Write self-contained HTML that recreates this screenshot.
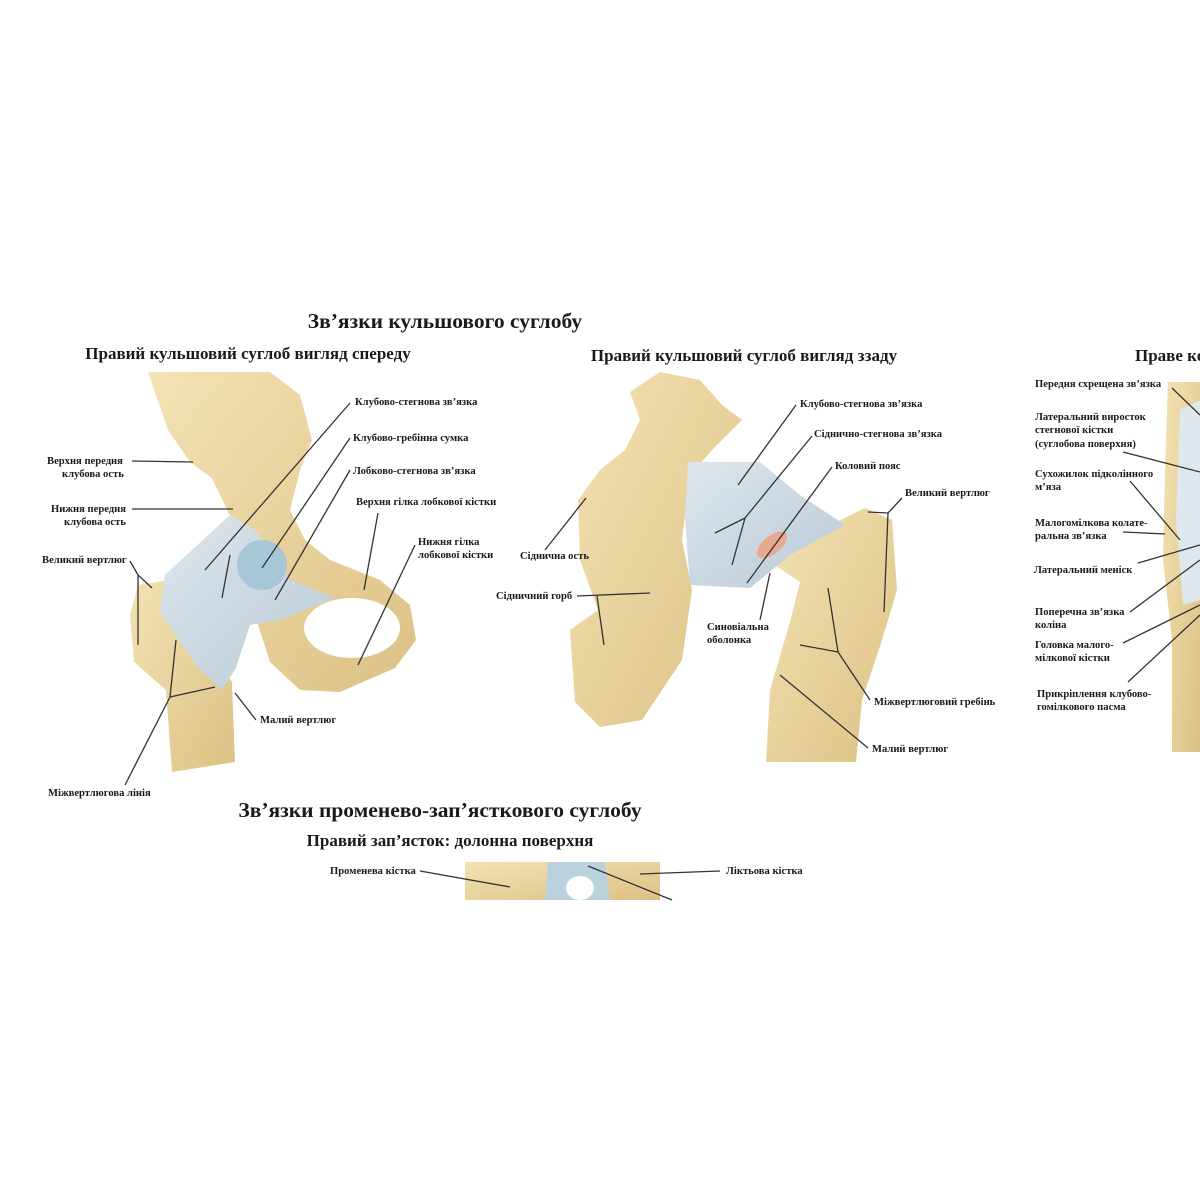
<!DOCTYPE html>
<html><head><meta charset="utf-8"><style>
html,body{margin:0;padding:0;background:#fff;width:1200px;height:1200px;overflow:hidden}
svg{display:block}
text{font-family:"Liberation Serif","DejaVu Serif",serif;font-weight:bold;fill:#1a1a1a}
.l{font-size:10.6px}
.s{font-size:17px}
.t{font-size:21.5px}
line,polyline{stroke:#333;stroke-width:1.3;fill:none}
</style></head><body>
<svg width="1200" height="1200" viewBox="0 0 1200 1200">
<defs>
<linearGradient id="bone" x1="0" y1="0" x2="1" y2="1">
<stop offset="0" stop-color="#f3e2b4"/><stop offset="0.5" stop-color="#e8d29c"/><stop offset="1" stop-color="#dcc184"/>
</linearGradient>
<linearGradient id="lig" x1="0" y1="0" x2="1" y2="1">
<stop offset="0" stop-color="#dde6ec"/><stop offset="1" stop-color="#b9cad6"/>
</linearGradient>
</defs>
<text class="t" x="445" y="328" text-anchor="middle">Зв’язки кульшового суглобу</text>
<text class="s" x="248" y="359" text-anchor="middle">Правий кульшовий суглоб вигляд спереду</text>
<text class="s" x="744" y="361" text-anchor="middle">Правий кульшовий суглоб вигляд ззаду</text>
<text class="s" x="1135" y="361">Праве коліно</text>

<!-- left hip -->
<path d="M148,372 L270,372 L300,395 L312,440 L300,470 L290,510 L305,540 L330,560 L380,580 L410,605 L416,640 L395,668 L340,692 L300,690 L270,662 L255,615 L238,598 L222,560 L232,520 L212,478 L190,462 L168,430 Z" fill="url(#bone)"/>
<ellipse cx="352" cy="628" rx="48" ry="30" fill="#fff"/>
<path d="M138,585 L182,578 L205,640 L232,682 L235,762 L172,772 L166,690 L134,662 L130,615 Z" fill="url(#bone)"/>
<path d="M165,575 L230,515 L255,530 L290,580 L335,598 L280,620 L250,625 L236,668 L222,690 L196,665 L160,612 Z" fill="url(#lig)"/>
<circle cx="262" cy="565" r="25" fill="#a7c6d8"/>
<line x1="350" y1="403" x2="205" y2="570"/><line x1="230" y1="555" x2="222" y2="598"/>
<line x1="350" y1="438" x2="262" y2="568"/>
<line x1="350" y1="470" x2="275" y2="600"/>
<line x1="378" y1="513" x2="364" y2="590"/>
<line x1="415" y1="545" x2="358" y2="665"/>
<line x1="132" y1="461" x2="193" y2="462"/>
<line x1="132" y1="509" x2="233" y2="509"/>
<polyline points="130,561 138,575 152,588"/><polyline points="138,575 138,645"/>
<polyline points="176,640 170,697 215,687"/><line x1="170" y1="697" x2="125" y2="785"/>
<line x1="235" y1="693" x2="256" y2="720"/>
<text class="l" x="47" y="464">Верхня передня</text><text class="l" x="62" y="477">клубова ость</text>
<text class="l" x="51" y="512">Нижня передня</text><text class="l" x="64" y="525">клубова ость</text>
<text class="l" x="42" y="563">Великий вертлюг</text>
<text class="l" x="355" y="405">Клубово-стегнова зв’язка</text>
<text class="l" x="353" y="441">Клубово-гребінна сумка</text>
<text class="l" x="353" y="474">Лобково-стегнова зв’язка</text>
<text class="l" x="356" y="505">Верхня гілка лобкової кістки</text>
<text class="l" x="418" y="545">Нижня гілка</text><text class="l" x="418" y="558">лобкової кістки</text>
<text class="l" x="260" y="723">Малий вертлюг</text>
<text class="l" x="48" y="796">Міжвертлюгова лінія</text>

<!-- middle hip -->
<path d="M630,392 L660,372 L700,380 L722,405 L742,420 L712,450 L690,475 L682,540 L692,590 L682,660 L642,720 L600,727 L575,702 L570,630 L598,610 L580,560 L578,500 L600,470 L625,450 L640,420 Z" fill="url(#bone)"/>
<path d="M830,525 L865,508 L892,520 L897,590 L882,640 L862,700 L856,762 L766,762 L770,690 L790,622 L800,582 L770,562 Z" fill="url(#bone)"/>
<path d="M688,462 L760,462 L800,495 L845,525 L790,555 L750,588 L690,585 L685,520 Z" fill="url(#lig)"/>
<ellipse cx="772" cy="545" rx="18" ry="9" transform="rotate(-40 772 545)" fill="#e7a98f"/>
<line x1="796" y1="405" x2="738" y2="485"/>
<line x1="812" y1="436" x2="745" y2="518"/><polyline points="715,533 745,518 732,565"/>
<line x1="832" y1="467" x2="747" y2="583"/>
<line x1="770" y1="573" x2="760" y2="620"/>
<line x1="545" y1="550" x2="586" y2="498"/>
<polyline points="577,596 650,593"/><polyline points="597,596 604,645"/>
<polyline points="902,498 888,513 868,512"/><line x1="888" y1="513" x2="884" y2="612"/>
<polyline points="828,588 838,652 800,645"/><line x1="838" y1="652" x2="870" y2="700"/>
<line x1="780" y1="675" x2="868" y2="748"/>
<text class="l" x="800" y="407">Клубово-стегнова зв’язка</text>
<text class="l" x="814" y="437">Сіднично-стегнова зв’язка</text>
<text class="l" x="835" y="469">Коловий пояс</text>
<text class="l" x="905" y="496">Великий вертлюг</text>
<text class="l" x="520" y="559">Сіднична ость</text>
<text class="l" x="496" y="599">Сідничний горб</text>
<text class="l" x="707" y="630">Синовіальна</text><text class="l" x="707" y="643">оболонка</text>
<text class="l" x="874" y="705">Міжвертлюговий гребінь</text>
<text class="l" x="872" y="752">Малий вертлюг</text>

<!-- knee -->
<path d="M1168,382 L1200,382 L1200,752 L1172,752 L1172,640 L1163,560 L1165,470 Z" fill="url(#bone)"/>
<path d="M1180,410 L1200,400 L1200,600 L1183,605 L1176,520 Z" fill="#dfe8ec"/>
<line x1="1172" y1="388" x2="1200" y2="415"/>
<line x1="1123" y1="452" x2="1200" y2="472"/>
<line x1="1130" y1="481" x2="1180" y2="540"/>
<line x1="1123" y1="532" x2="1165" y2="534"/>
<line x1="1138" y1="563" x2="1200" y2="545"/>
<line x1="1130" y1="612" x2="1200" y2="560"/>
<line x1="1123" y1="643" x2="1200" y2="605"/>
<line x1="1128" y1="682" x2="1200" y2="615"/>
<text class="l" x="1035" y="387">Передня схрещена зв’язка</text>
<text class="l" x="1035" y="420">Латеральний виросток</text><text class="l" x="1035" y="433">стегнової кістки</text><text class="l" x="1035" y="447">(суглобова поверхня)</text>
<text class="l" x="1035" y="477">Сухожилок підколінного</text><text class="l" x="1035" y="490">м’яза</text>
<text class="l" x="1035" y="526">Малогомілкова колате-</text><text class="l" x="1035" y="539">ральна зв’язка</text>
<text class="l" x="1034" y="573">Латеральний меніск</text>
<text class="l" x="1035" y="615">Поперечна зв’язка</text><text class="l" x="1035" y="628">коліна</text>
<text class="l" x="1035" y="648">Головка малого-</text><text class="l" x="1035" y="661">мілкової кістки</text>
<text class="l" x="1037" y="697">Прикріплення клубово-</text><text class="l" x="1037" y="710">гомілкового пасма</text>

<!-- wrist -->
<text class="t" x="440" y="817" text-anchor="middle">Зв’язки променево-зап’ясткового суглобу</text>
<text class="s" x="450" y="846" text-anchor="middle">Правий зап’ясток: долонна поверхня</text>
<rect x="465" y="862" width="195" height="38" fill="url(#bone)"/>
<path d="M548,862 L605,862 L610,900 L545,900 Z" fill="#b9d2dc"/>
<ellipse cx="580" cy="888" rx="14" ry="12" fill="#fff"/>
<line x1="420" y1="871" x2="510" y2="887"/>
<line x1="588" y1="866" x2="672" y2="900"/>
<line x1="640" y1="874" x2="720" y2="871"/>
<text class="l" x="330" y="874">Променева кістка</text>
<text class="l" x="726" y="874">Ліктьова кістка</text>
</svg>
</body></html>
